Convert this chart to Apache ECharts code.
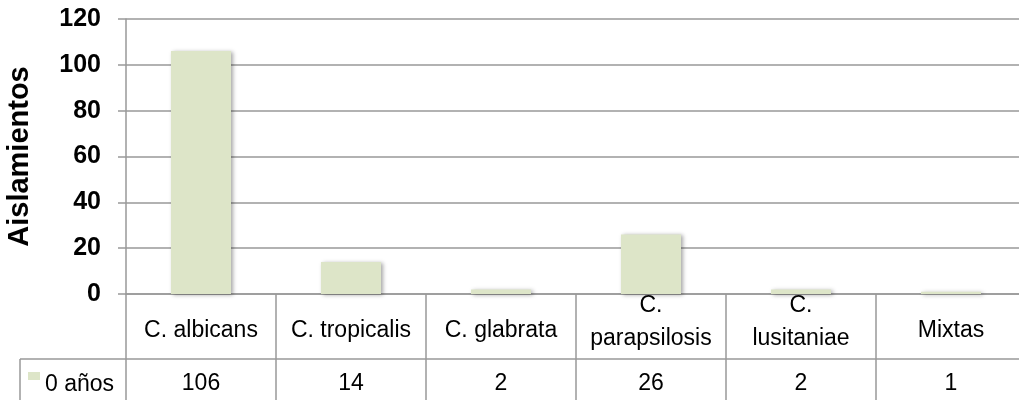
<!DOCTYPE html>
<html><head><meta charset="utf-8">
<script src="https://cdn.jsdelivr.net/npm/echarts/dist/echarts.min.js"></script>
<style>html,body{margin:0;padding:0;background:#fff}#c{width:1019px;height:400px}</style>
</head><body><div id="c"></div>
<script>
const categories = ['C. albicans', 'C. tropicalis', 'C. glabrata', 'C.\nparapsilosis', 'C.\nlusitaniae', 'Mixtas'];
const values = [106, 14, 2, 26, 2, 1];
const seriesName = '0 años';
const yMin = 0, yMax = 120, yInterval = 20;
const yTitle = 'Aislamientos';

const FONT = '"Liberation Sans", Arial, sans-serif';
const GRID = '#999999';

const catData = categories.map(c => c.indexOf('\n') >= 0
  ? c
  : { value: c, textStyle: { padding: [25, 0, 0, 0], verticalAlign: 'top', lineHeight: 33 } });

const chart = echarts.init(document.getElementById('c'), null, { renderer: 'canvas' });
chart.setOption({
  animation: false,
  backgroundColor: '#fff',
  grid: { left: 126, top: 19, width: 900, height: 275, containLabel: false, outerBoundsMode: 'none' },
  legend: {
    data: [seriesName], left: 28, top: 372, padding: 0, icon: 'rect', itemWidth: 12, itemHeight: 8,
    formatter: n => '{t|' + n + '}',
    textStyle: { fontFamily: FONT, fontSize: 23, color: '#000',
      rich: { t: { fontFamily: FONT, fontSize: 23, color: '#000', padding: [18, 0, 0, 0] } } }
  },
  xAxis: [{
    type: 'category', data: catData, position: 'bottom', boundaryGap: true,
    axisLine: { show: true, lineStyle: { color: GRID, width: 1.5 } },
    axisTick: { show: true, length: 106, alignWithLabel: false, lineStyle: { color: GRID, width: 1.5 } },
    axisLabel: { interval: 0, fontFamily: FONT, fontSize: 23, color: '#000', margin: -5,
      verticalAlign: 'top', lineHeight: 33, hideOverlap: false }
  }, {
    type: 'category', data: categories, position: 'bottom', offset: 0, gridIndex: 0,
    axisLine: { show: false }, axisTick: { show: false }, splitLine: { show: false },
    axisLabel: { interval: 0, fontFamily: FONT, fontSize: 23, color: '#000', margin: 90,
      verticalAlign: 'middle', hideOverlap: false,
      formatter: (v, i) => String(values[i]) }
  }],
  yAxis: {
    type: 'value', min: yMin, max: yMax, interval: yInterval,
    name: yTitle, nameLocation: 'middle', nameGap: 92, nameRotate: 90,
    nameTextStyle: { fontFamily: FONT, fontSize: 29, fontWeight: 'bold', color: '#000' },
    axisLine: { show: true, lineStyle: { color: GRID, width: 1.5 } },
    axisTick: { show: true, length: 8, lineStyle: { color: GRID, width: 1.5 } },
    splitLine: { show: true, lineStyle: { color: GRID, width: 1.5 } },
    axisLabel: { fontFamily: FONT, fontSize: 25, fontWeight: 'bold', color: '#000', margin: 25 }
  },
  series: [{
    name: seriesName, type: 'bar', xAxisIndex: 0, data: values, barWidth: '40%',
    itemStyle: { color: '#dde5c8', shadowBlur: 4, shadowOffsetX: 2, shadowOffsetY: 1, shadowColor: 'rgba(0,0,0,0.35)' }
  }],
  graphic: [
    { type: 'line', shape: { x1: 20, y1: 359, x2: 1019, y2: 359 }, style: { stroke: GRID, lineWidth: 1.5 } },
    { type: 'line', shape: { x1: 20, y1: 359, x2: 20, y2: 400 }, style: { stroke: GRID, lineWidth: 1.5 } }
  ]
});
</script></body></html>
